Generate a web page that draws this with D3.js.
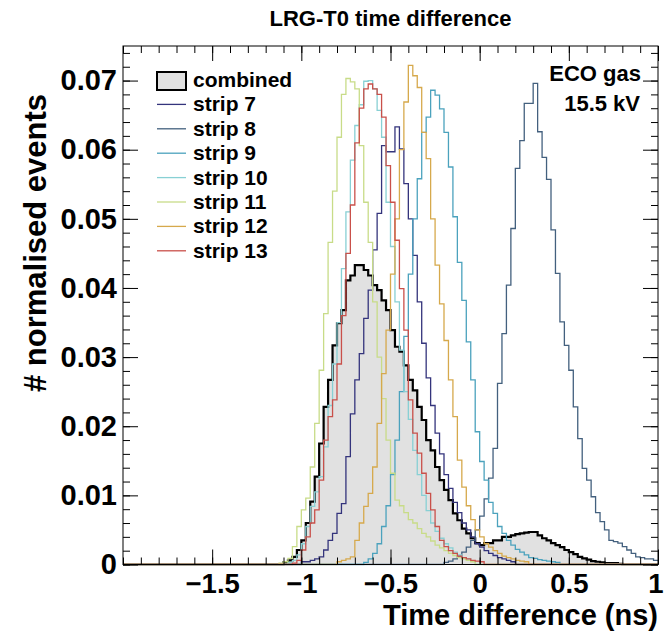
<!DOCTYPE html>
<html>
<head>
<meta charset="utf-8">
<script src="https://cdn.jsdelivr.net/npm/d3@7"></script>
<style>
  body { margin: 0; background: #fff; }
  text { font-family: "Liberation Sans", Arial, Helvetica, sans-serif; font-weight: bold; fill: #000; }
</style>
</head>
<body>
<div id="chart"></div>
<script>
// binning of the time difference histograms (ns)
const xMin = -2, xMax = 1, binWidth = 0.025, nBins = 120;

// bin contents, starting at bin index *Start
const combinedStart = 36;
const combined = [0.0003, 0.0006, 0.0011, 0.0021, 0.0035, 0.006, 0.0091, 0.0127, 0.0175, 0.0228,
  0.0267, 0.0317, 0.0349, 0.0368, 0.0411, 0.0418, 0.0433, 0.0433, 0.0426, 0.0418,
  0.0404, 0.0397, 0.0382, 0.0368, 0.0339, 0.0315, 0.0308, 0.0288, 0.0267, 0.0252,
  0.0228, 0.0209, 0.018, 0.0165, 0.0141, 0.0122, 0.0108, 0.0093, 0.0074, 0.0064,
  0.0052, 0.0045, 0.0038, 0.0031, 0.0028, 0.0031, 0.0031, 0.0035, 0.0035, 0.004,
  0.004, 0.0042, 0.0044, 0.0045, 0.0046, 0.0047, 0.0047, 0.0042, 0.0038, 0.0035,
  0.0031, 0.0028, 0.0025, 0.0021, 0.0018, 0.0015, 0.0011, 0.0009, 0.0007, 0.0005,
  0.0004, 0.0003, 0.0002, 0.0002, 0.0002, 0.0001];

const strip7Start = 40;
const strip7 = [0.0004, 0.0004, 0.0006, 0.0008, 0.0011, 0.0021, 0.0035, 0.0045, 0.0074, 0.0088,
  0.0156, 0.0218, 0.0267, 0.0305, 0.0356, 0.0397, 0.0455, 0.0508, 0.0606, 0.0597,
  0.0597, 0.0633, 0.0601, 0.0551, 0.050, 0.0447, 0.038, 0.032, 0.027, 0.023,
  0.019, 0.016, 0.013, 0.011, 0.009, 0.0075, 0.006, 0.005, 0.004, 0.003,
  0.0025, 0.002, 0.0016, 0.0013, 0.001, 0.0008, 0.0006, 0.0004];

const strip8Start = 72;
const strip8 = [0.0003, 0.0005, 0.0008, 0.0012, 0.0018, 0.0025, 0.0035, 0.005, 0.007, 0.0095,
  0.0125, 0.0168, 0.0262, 0.0334, 0.0404, 0.0486, 0.0573, 0.0613, 0.0667, 0.0667,
  0.0696, 0.0626, 0.0589, 0.0557, 0.0484, 0.0421, 0.0351, 0.0317, 0.0281, 0.0228,
  0.0182, 0.0139, 0.0122, 0.0098, 0.0075, 0.0062, 0.005, 0.0035, 0.0033, 0.0031,
  0.0026, 0.0021, 0.0016, 0.0011, 0.001, 0.0008, 0.0008, 0.0006];

const strip9Start = 54;
const strip9 = [0.0003, 0.0008, 0.0016, 0.003, 0.0055, 0.0085, 0.013, 0.018, 0.025, 0.033,
  0.042, 0.05, 0.0558, 0.0625, 0.0647, 0.0686, 0.0679, 0.0659, 0.0625, 0.0575,
  0.0503, 0.0437, 0.0382, 0.0322, 0.0267, 0.0192, 0.0149, 0.0122, 0.009, 0.0074,
  0.0055, 0.0045, 0.0035, 0.0028, 0.0022, 0.0018, 0.0014, 0.001, 0.0009, 0.0007,
  0.0006, 0.0005, 0.0004, 0.0003];

const strip10Start = 37;
const strip10 = [0.0003, 0.0006, 0.0014, 0.003, 0.0055, 0.0084, 0.0105, 0.0127, 0.017, 0.023,
  0.029, 0.035, 0.0428, 0.051, 0.0585, 0.0635, 0.0665, 0.0699, 0.070, 0.0688,
  0.0657, 0.0618, 0.0524, 0.046, 0.038, 0.031, 0.025, 0.021, 0.0165, 0.013,
  0.01, 0.0078, 0.006, 0.0048, 0.0038, 0.003, 0.0024, 0.0018, 0.0014, 0.001,
  0.0008, 0.0005];

const strip11Start = 35;
const strip11 = [0.0002, 0.0004, 0.0009, 0.0026, 0.0055, 0.0079, 0.0096, 0.0141, 0.0204, 0.0281,
  0.0363, 0.0466, 0.054, 0.0618, 0.068, 0.0703, 0.0698, 0.0688, 0.0606, 0.0524,
  0.0466, 0.038, 0.030, 0.024, 0.018, 0.0132, 0.0093, 0.0085, 0.0075, 0.0065,
  0.006, 0.0052, 0.0045, 0.004, 0.0034, 0.0028, 0.0024, 0.002, 0.0016, 0.0013,
  0.001, 0.0008, 0.0006, 0.0004];

const strip12Start = 48;
const strip12 = [0.0004, 0.0006, 0.0008, 0.0011, 0.0035, 0.006, 0.0084, 0.0103, 0.0141, 0.0204,
  0.0276, 0.0339, 0.042, 0.050, 0.060, 0.0669, 0.0722, 0.0707, 0.069, 0.0625,
  0.0587, 0.050, 0.0433, 0.0377, 0.0324, 0.0267, 0.0214, 0.0151, 0.0112, 0.0085,
  0.0065, 0.005, 0.004, 0.003, 0.0025, 0.002, 0.0016, 0.0012, 0.001, 0.0008,
  0.0006, 0.0005, 0.0004];

const strip13Start = 38;
const strip13 = [0.0002, 0.0006, 0.0021, 0.004, 0.006, 0.0079, 0.0122, 0.018, 0.0214, 0.0238,
  0.029, 0.036, 0.045, 0.052, 0.061, 0.066, 0.0688, 0.0695, 0.0688, 0.068,
  0.0647, 0.0577, 0.0524, 0.0469, 0.0399, 0.0339, 0.0238, 0.019, 0.0161, 0.0132,
  0.0103, 0.0079, 0.0055, 0.0035, 0.0026, 0.002, 0.0016, 0.0012, 0.001, 0.0008,
  0.0006, 0.0005, 0.0004];

const stripNames = ["strip 7", "strip 8", "strip 9", "strip 10", "strip 11", "strip 12", "strip 13"];
const stripColors = ["#34347c", "#43607e", "#4ba2bd", "#88d0d4", "#c8dc88", "#d6a94c", "#c9504a"];

const xTickValues = [-1.5, -1, -0.5, 0, 0.5, 1];
const yTickValues = [0, 0.01, 0.02, 0.03, 0.04, 0.05, 0.06, 0.07];

// ---------------------------------------------------------------

const width = 664, height = 631;
const plot = {left: 123, right: 658, top: 46, bottom: 564.5};

const svg = d3.select("#chart")
  .append("svg")
  .attr("width", width)
  .attr("height", height)
  .style("display", "block");

svg.append("rect").attr("width", width).attr("height", height).attr("fill", "#fff");

const x = d3.scaleLinear().domain([xMin, xMax]).range([plot.left, plot.right]);
const y = d3.scaleLinear().domain([0, 0.075]).range([plot.bottom, plot.top]);

// expand a partial histogram into all bins, then into step points
function fullHist(start, vals) {
  const h = new Array(nBins).fill(0);
  vals.forEach((v, i) => { h[start + i] = v; });
  return h;
}
function stepPoints(h) {
  const pts = [];
  h.forEach((v, i) => {
    const lo = xMin + i * binWidth;
    pts.push([lo, v], [lo + binWidth, v]);
  });
  return pts;
}

const line = d3.line().x(d => x(d[0])).y(d => y(d[1]));
const area = d3.area().x(d => x(d[0])).y0(y(0)).y1(d => y(d[1]));

svg.append("clipPath").attr("id", "clip")
  .append("rect")
  .attr("x", plot.left).attr("y", plot.top)
  .attr("width", plot.right - plot.left).attr("height", plot.bottom - plot.top + 1);

const hg = svg.append("g").attr("clip-path", "url(#clip)");

const combPts = stepPoints(fullHist(combinedStart, combined));
hg.append("path").attr("d", area(combPts)).attr("fill", "#e1e1e1");
hg.append("path").attr("d", line(combPts))
  .attr("fill", "none").attr("stroke", "#000").attr("stroke-width", 2.2);

const strips = [
  [strip7Start, strip7], [strip8Start, strip8], [strip9Start, strip9], [strip10Start, strip10],
  [strip11Start, strip11], [strip12Start, strip12], [strip13Start, strip13]
];
strips.forEach((s, i) => {
  hg.append("path")
    .attr("d", line(stepPoints(fullHist(s[0], s[1]))))
    .attr("fill", "none")
    .attr("stroke", stripColors[i])
    .attr("stroke-width", 1.3);
});

// axes: ticks inside the frame on all four sides
const fmtX = d => d < 0 ? "\u2212" + Math.abs(d) : String(d);
const fmtY = d => d === 0 ? "0" : d.toFixed(2);
const xMinor = d3.range(-20, 11).map(i => i / 10);
const yMinor = d3.range(0, 38).map(i => i * 0.002);

function styleAxis(g) {
  g.select(".domain").remove();
  g.selectAll("line").attr("stroke", "#000").attr("stroke-width", 1);
}

svg.append("g").attr("transform", `translate(0,${plot.bottom})`)
  .call(d3.axisBottom(x).tickValues(xMinor).tickSize(-7).tickFormat(""))
  .call(styleAxis);
svg.append("g").attr("transform", `translate(0,${plot.bottom})`)
  .call(d3.axisBottom(x).tickValues(xTickValues).tickSize(-15).tickPadding(9).tickFormat(fmtX))
  .call(styleAxis)
  .call(g => g.selectAll("text").style("font-size", "27.5px").style("font-family", null))
  // keep the last label inside the window
  .call(g => g.selectAll("text").filter(d => d === xMax).attr("text-anchor", "end").attr("x", 5));
svg.append("g").attr("transform", `translate(0,${plot.top})`)
  .call(d3.axisTop(x).tickValues(xMinor).tickSize(-7).tickFormat(""))
  .call(styleAxis);
svg.append("g").attr("transform", `translate(0,${plot.top})`)
  .call(d3.axisTop(x).tickValues(xTickValues).tickSize(-15).tickFormat(""))
  .call(styleAxis);

svg.append("g").attr("transform", `translate(${plot.left},0)`)
  .call(d3.axisLeft(y).tickValues(yMinor).tickSize(-7).tickFormat(""))
  .call(styleAxis);
svg.append("g").attr("transform", `translate(${plot.left},0)`)
  .call(d3.axisLeft(y).tickValues(yTickValues).tickSize(-15).tickPadding(6).tickFormat(fmtY))
  .call(styleAxis)
  .call(g => g.selectAll("text").style("font-size", "29px").style("font-family", null));
svg.append("g").attr("transform", `translate(${plot.right},0)`)
  .call(d3.axisRight(y).tickValues(yMinor).tickSize(-7).tickFormat(""))
  .call(styleAxis);
svg.append("g").attr("transform", `translate(${plot.right},0)`)
  .call(d3.axisRight(y).tickValues(yTickValues).tickSize(-15).tickFormat(""))
  .call(styleAxis);

svg.append("rect")
  .attr("x", plot.left).attr("y", plot.top)
  .attr("width", plot.right - plot.left).attr("height", plot.bottom - plot.top)
  .attr("fill", "none").attr("stroke", "#000").attr("stroke-width", 1);

// titles
svg.append("text")
  .attr("x", (plot.left + plot.right) / 2).attr("y", 26)
  .attr("text-anchor", "middle").style("font-size", "22px")
  .text("LRG-T0 time difference");

svg.append("text")
  .attr("x", plot.right).attr("y", 625)
  .attr("text-anchor", "end").style("font-size", "29px")
  .text("Time difference (ns)");

svg.append("text")
  .attr("transform", "translate(46,94) rotate(-90)")
  .attr("text-anchor", "end").style("font-size", "31px")
  .text("# normalised events");

svg.append("text").attr("x", 641).attr("y", 81)
  .attr("text-anchor", "end").style("font-size", "22px").text("ECO gas");
svg.append("text").attr("x", 640).attr("y", 111)
  .attr("text-anchor", "end").style("font-size", "22px").text("15.5 kV");

// legend
const leg = svg.append("g");
const legX = 157, legY0 = 80, legStep = 24.4;
leg.append("rect")
  .attr("x", legX).attr("y", legY0 - 8).attr("width", 29).attr("height", 18)
  .attr("fill", "#e1e1e1").attr("stroke", "#000").attr("stroke-width", 2);
leg.append("text").attr("x", 193).attr("y", legY0 + 7)
  .style("font-size", "21px").text("combined");
stripNames.forEach((name, i) => {
  const cy = legY0 + legStep * (i + 1);
  leg.append("line")
    .attr("x1", legX).attr("x2", legX + 29).attr("y1", cy).attr("y2", cy)
    .attr("stroke", stripColors[i]).attr("stroke-width", 1.3);
  leg.append("text").attr("x", 193).attr("y", cy + 7)
    .style("font-size", "21px").text(name);
});
</script>
</body>
</html>
